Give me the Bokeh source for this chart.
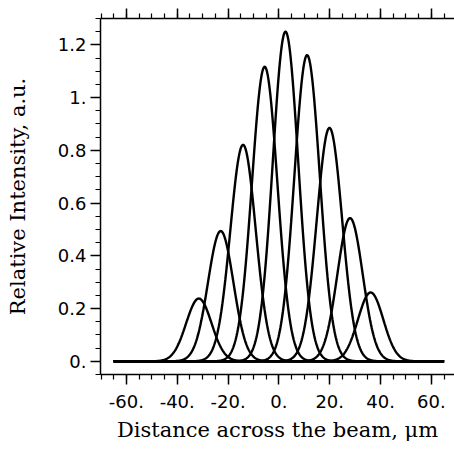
import numpy as np
from bokeh.plotting import figure
from bokeh.models import (LinearAxis, FixedTicker, CustomJSTickFormatter, Range1d,
                          CustomLabelingPolicy)
from bokeh.embed import file_html
from bokeh.resources import INLINE

# Peak data (Gaussian beamlets)
centers = [-31.5, -22.9, -14.1, -5.6, 2.6, 11.1, 19.9, 28.0, 36.1]
heights = [0.238, 0.494, 0.821, 1.117, 1.250, 1.161, 0.885, 0.543, 0.261]
widths = [5.0, 5.0, 5.0, 5.0, 5.0, 5.0, 5.0, 5.0, 5.0]
x_extent = [-65, 65]

x_major = [-60, -40, -20, 0, 20, 40, 60]
x_minor = list(range(-70, 71, 5))
y_major = [0, 0.2, 0.4, 0.6, 0.8, 1.0, 1.2]
y_minor = [round(-0.05 + 0.05 * i, 2) for i in range(28)]

p = figure(width=454, height=449, output_backend="svg", toolbar_location=None,
           x_range=Range1d(-70.2, 69.1), y_range=Range1d(-0.05, 1.3),
           min_border_left=100, min_border_right=0, min_border_top=18,
           min_border_bottom=75,
           x_axis_label="Distance across the beam, \u03bcm",
           y_axis_label="Relative Intensity, a.u.")
p.outline_line_color = None
p.grid.visible = False
p.background_fill_color = "white"
p.border_fill_color = "white"

xs = np.linspace(x_extent[0], x_extent[1], 800)
for c, h, w in zip(centers, heights, widths):
    ys = h * np.exp(-(xs - c) ** 2 / (2 * w ** 2))
    p.line(xs, ys, line_color="black", line_width=2.4)

xfmt = CustomJSTickFormatter(code="return Math.round(tick) + '.';")
yfmt = CustomJSTickFormatter(code="""
if (Math.abs(tick) < 1e-9) return '0.';
if (Math.abs(tick - 1) < 1e-9) return '1.';
return tick.toFixed(1);
""")

def style(ax):
    ax.axis_line_width = 1.5
    ax.axis_line_color = "black"
    ax.major_tick_line_width = 1.5
    ax.minor_tick_line_width = 1.2
    ax.major_tick_line_color = "black"
    ax.minor_tick_line_color = "black"
    ax.major_tick_in = 0
    ax.minor_tick_in = 0
    ax.major_tick_out = 10
    ax.minor_tick_out = 5
    ax.major_label_text_font = "DejaVu Sans"
    ax.major_label_text_font_size = "18px"
    ax.major_label_text_color = "black"
    ax.axis_label_text_font = "DejaVu Serif"
    ax.axis_label_text_font_size = "21px"
    ax.axis_label_text_font_style = "normal"
    ax.axis_label_text_color = "black"

xa = p.xaxis[0]
xa.ticker = FixedTicker(ticks=x_major, minor_ticks=x_minor)
xa.formatter = xfmt
style(xa)
xa.major_label_standoff = 10
xa.axis_label_standoff = 7

ya = p.yaxis[0]
ya.ticker = FixedTicker(ticks=y_major, minor_ticks=y_minor)
ya.formatter = yfmt
style(ya)
ya.major_label_standoff = 4
ya.major_label_orientation = "horizontal"
ya.axis_label_standoff = 25

top = LinearAxis(ticker=FixedTicker(ticks=x_major, minor_ticks=x_minor))
style(top)
top.major_label_text_font_size = "2px"
top.major_label_standoff = 0
top.major_label_policy = CustomLabelingPolicy(code="""
for (const i of indices) { indices.unset(i) }
return indices
""")
p.add_layout(top, "above")

open("out.html", "w").write(file_html(p, INLINE))
